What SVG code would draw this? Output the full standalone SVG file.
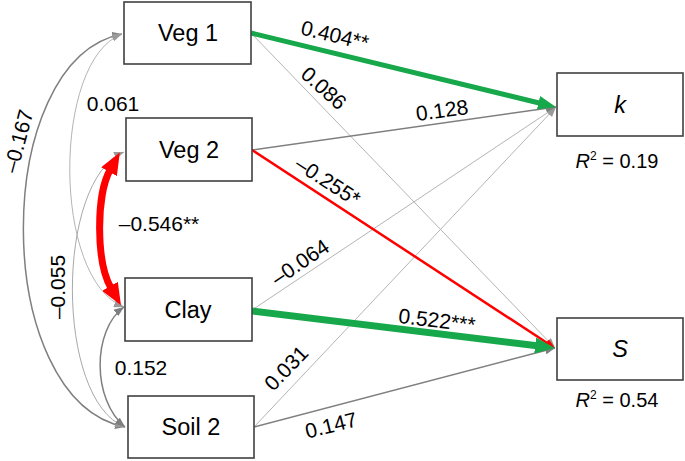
<svg xmlns="http://www.w3.org/2000/svg" width="685" height="461" viewBox="0 0 685 461">
<style>
.box{fill:#fff;stroke:#404040;stroke-width:1.6}
.nl{font-family:"Liberation Sans",Arial,sans-serif;font-size:23.5px;fill:#000;text-anchor:middle;dominant-baseline:central}
.el{font-family:"Liberation Sans",Arial,sans-serif;font-size:21px;fill:#000;text-anchor:middle;dominant-baseline:central}
.r2{font-family:"Liberation Sans",Arial,sans-serif;font-size:20px;fill:#000;text-anchor:middle}
.g{fill:none;stroke:#7f7f7f;stroke-width:1.5}
.lg{fill:none;stroke:#b4b4b4;stroke-width:1}
.gr{fill:none;stroke:#17a84b}
.rd{fill:none;stroke:#ff0000}
</style>
<defs>
<marker id="ag" markerUnits="userSpaceOnUse" viewBox="0 0 10 8" markerWidth="10" markerHeight="8" refX="10" refY="4" orient="auto-start-reverse"><path d="M0,0 L10,4 L0,8 z" fill="#7f7f7f"/></marker>
<marker id="alg" markerUnits="userSpaceOnUse" viewBox="0 0 10 8" markerWidth="10" markerHeight="8" refX="10" refY="4" orient="auto-start-reverse"><path d="M0,0 L10,4 L0,8 z" fill="#9a9a9a"/></marker>
<marker id="agr" markerUnits="userSpaceOnUse" viewBox="0 0 18 14" markerWidth="18" markerHeight="14" refX="6" refY="7" orient="auto"><path d="M0,0 L18,7 L0,14 z" fill="#17a84b"/></marker>
<marker id="agrL" markerUnits="userSpaceOnUse" viewBox="0 0 20 16" markerWidth="20" markerHeight="16" refX="6" refY="8" orient="auto"><path d="M0,0 L20,8 L0,16 z" fill="#17a84b"/></marker>
<marker id="ard" markerUnits="userSpaceOnUse" viewBox="0 0 10 8" markerWidth="10" markerHeight="8" refX="3" refY="4" orient="auto"><path d="M0,0 L10,4 L0,8 z" fill="#ff0000"/></marker>
<marker id="ardL" markerUnits="userSpaceOnUse" viewBox="0 0 22 18" markerWidth="22" markerHeight="18" refX="2" refY="9" orient="auto-start-reverse"><path d="M0,0 L22,9 L0,18 z" fill="#ff0000"/></marker>
</defs>

<g id="connectors">
<path class="g" d="M122,34 C-10,60 -10,400 125,427" marker-start="url(#ag)" marker-end="url(#ag)"/>
<path class="lg" d="M122,34 C52,60 52,280 124,307" marker-start="url(#alg)" marker-end="url(#alg)"/>
<path class="lg" style="stroke:#a8a8a8" d="M124,152 C55,180 55,400 125,427" marker-start="url(#alg)" marker-end="url(#alg)"/>
<path class="g" d="M124,307 C92,330 92,400 125,427" marker-start="url(#ag)" marker-end="url(#ag)"/>
<path class="rd" stroke-width="7" d="M110,170 C96,195 96,262 111,288" marker-start="url(#ardL)" marker-end="url(#ardL)"/>
<path class="lg" d="M251,33 L555,348" marker-end="url(#alg)"/>
<path class="lg" d="M252,310 L556,107" marker-end="url(#alg)"/>
<path class="lg" d="M254,427 L556,107" marker-end="url(#alg)"/>
<path class="g" d="M252,150 L556,107" marker-end="url(#ag)"/>
<path class="g" d="M254,427 L555,348" marker-end="url(#ag)"/>
<path class="rd" stroke-width="2.5" d="M252,150 L549.1,344.2" marker-end="url(#ard)"/>
<path class="gr" stroke-width="5" d="M251,33 L544.3,104.2" marker-end="url(#agr)"/>
<path class="gr" stroke-width="7" d="M252,311 L541.1,346.3" marker-end="url(#agrL)"/>
</g>

<g id="edge-labels">
<text class="el" transform="translate(335,35) rotate(13.7)">0.404**</text>
<text class="el" transform="translate(324,88) rotate(42)">0.086</text>
<text class="el" transform="translate(442,110) rotate(-8)">0.128</text>
<text class="el" transform="translate(328,181) rotate(33)">–0.255*</text>
<text class="el" transform="translate(300,262) rotate(-34)">–0.064</text>
<text class="el" transform="translate(437,320) rotate(7)">0.522***</text>
<text class="el" transform="translate(286,368) rotate(-46)">0.031</text>
<text class="el" transform="translate(331,425) rotate(-14)">0.147</text>
<text class="el" x="113" y="103">0.061</text>
<text class="el" transform="translate(18,141) rotate(-75)">–0.167</text>
<text class="el" transform="translate(57,287) rotate(-90)">–0.055</text>
<text class="el" x="159" y="223">–0.546**</text>
<text class="el" x="141" y="367">0.152</text>
</g>

<g id="veg1"><rect class="box" x="124" y="2" width="127" height="62"/><text class="nl" x="188" y="33">Veg 1</text></g>
<g id="veg2"><rect class="box" x="126" y="118" width="126" height="63"/><text class="nl" x="189" y="150">Veg 2</text></g>
<g id="clay"><rect class="box" x="125" y="278" width="127" height="63"/><text class="nl" x="188" y="310">Clay</text></g>
<g id="soil2"><rect class="box" x="128" y="396" width="126" height="62"/><text class="nl" x="191" y="427">Soil 2</text></g>
<g id="k"><rect class="box" x="557" y="73" width="126" height="63"/><text class="nl" x="620" y="105" font-style="italic" font-size="24">k</text>
<text class="r2" x="617" y="168"><tspan font-style="italic">R</tspan><tspan font-size="12" dy="-8">2</tspan><tspan dy="8"> = 0.19</tspan></text></g>
<g id="S"><rect class="box" x="557" y="318" width="126" height="62"/><text class="nl" x="620" y="349" font-style="italic" font-size="24">S</text>
<text class="r2" x="617" y="407"><tspan font-style="italic">R</tspan><tspan font-size="12" dy="-8">2</tspan><tspan dy="8"> = 0.54</tspan></text></g>
</svg>
